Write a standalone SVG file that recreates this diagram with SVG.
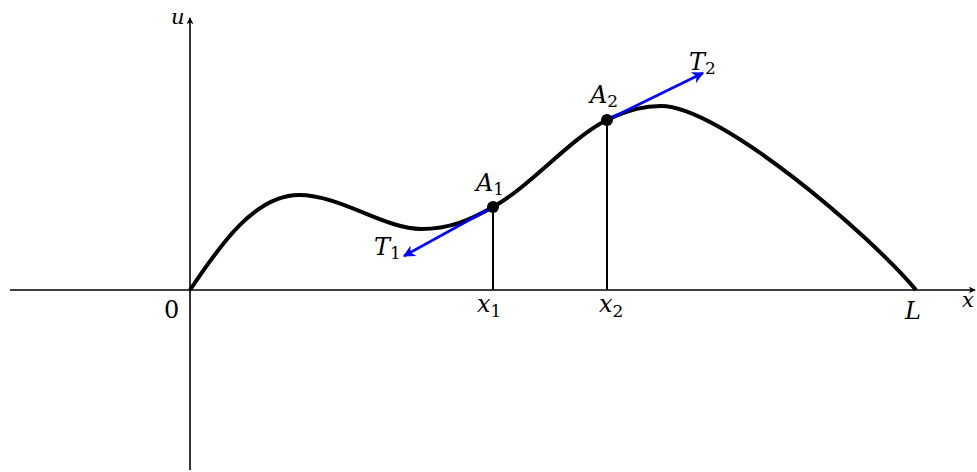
<svg xmlns="http://www.w3.org/2000/svg" width="977" height="472" viewBox="0 0 977 472">
<style>
text{font-family:"DejaVu Serif",serif;font-size:24px;fill:#000}
.it{font-style:italic}
.sub{font-size:17px;font-style:normal}
.axis{stroke:#000;stroke-width:1.6;fill:none}
.vl{stroke:#000;stroke-width:2;fill:none}
.tan{stroke:#0000ff;stroke-width:2.6;fill:none}
</style>
<defs>
<marker id="ak" viewBox="0 0 10 10" refX="9" refY="5" markerWidth="7" markerHeight="7" orient="auto" markerUnits="userSpaceOnUse">
<path d="M0,0 L10,5 L0,10 L3,5 Z" fill="#000"/>
</marker>
<marker id="ab" viewBox="0 0 10 10" refX="9" refY="5" markerWidth="12" markerHeight="12" orient="auto" markerUnits="userSpaceOnUse">
<path d="M0,0 L10,5 L0,10 L3,5 Z" fill="#0000ff"/>
</marker>
</defs>
<g id="connectors">
<line class="axis" x1="10" y1="290" x2="975" y2="290" marker-end="url(#ak)"/>
<line class="axis" x1="190" y1="470" x2="190" y2="18" marker-end="url(#ak)"/>
<path id="curve" d="M190,290 C220,245 255,195 299,195 C340,195 385,229 421,229 C450,229 470,220 493,207 C530,186.5 572,137 607,120 C630,109 645,106 661,106 C720,106 870,235 916,290" fill="none" stroke="#000" stroke-width="4"/>
<line class="vl" x1="493" y1="207" x2="493" y2="290"/>
<line class="vl" x1="607" y1="120" x2="607" y2="290"/>
<line class="tan" x1="493" y1="207" x2="404" y2="256" marker-end="url(#ab)"/>
<line class="tan" x1="607" y1="120" x2="703" y2="73" marker-end="url(#ab)"/>
</g>
<g id="A1"><circle cx="493" cy="207" r="6" fill="#000"/><text class="it" x="476" y="191">A<tspan class="sub" dy="4">1</tspan></text></g>
<g id="A2"><circle cx="607" cy="120" r="6" fill="#000"/><text class="it" x="590" y="103">A<tspan class="sub" dy="4">2</tspan></text></g>
<g id="T1"><text class="it" x="374" y="255">T<tspan class="sub" dy="4">1</tspan></text></g>
<g id="T2"><text class="it" x="689" y="70">T<tspan class="sub" dy="4">2</tspan></text></g>
<g id="labels">
<text x="164" y="318">0</text>
<text class="it" x="477" y="312">x<tspan class="sub" dy="5">1</tspan></text>
<text class="it" x="599" y="312">x<tspan class="sub" dy="5">2</tspan></text>
<text class="it" x="905" y="319">L</text>
<text class="it" x="962" y="307" style="font-size:21px">x</text>
<text class="it" x="171" y="24" style="font-size:21px">u</text>
</g>
</svg>
